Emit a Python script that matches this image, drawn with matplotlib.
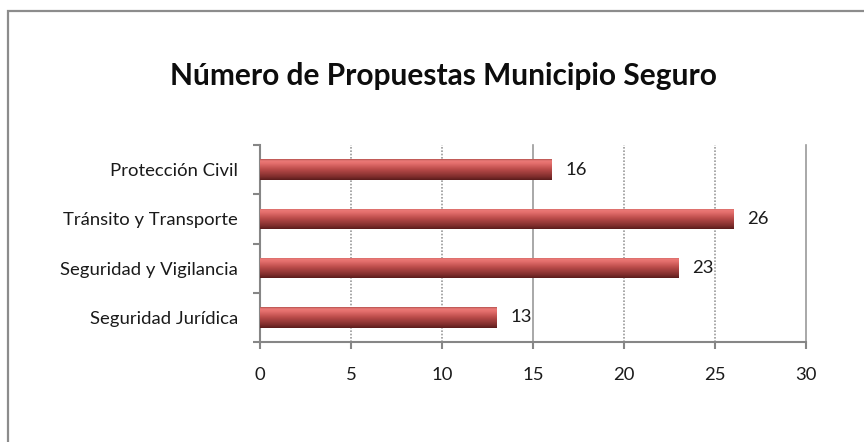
import matplotlib.pyplot as plt
import numpy as np
from matplotlib.colors import LinearSegmentedColormap
from matplotlib.patches import Rectangle

categories = ['Seguridad Jurídica', 'Seguridad y Vigilancia', 'Tránsito y Transporte', 'Protección Civil']
values = [13, 23, 26, 16]
xticks = [0, 5, 10, 15, 20, 25, 30]
title = 'Número de Propuestas Municipio Seguro'

plt.rcParams['font.family'] = ['Lato', 'DejaVu Sans']

fig = plt.figure(figsize=(8.64, 4.42), dpi=100)
fig.patches.append(Rectangle((8 / 864, -0.2), 1.2, 1.2 - 11 / 442,
                             transform=fig.transFigure, fill=False,
                             edgecolor='#8c8c8c', linewidth=1.6))

ax = fig.add_axes([260 / 864, 1 - 342 / 442, 546 / 864, 197 / 442])

# gradient for bars: light on top, dark at bottom
cmap = LinearSegmentedColormap.from_list('bar', [
    (0.0, '#5a1c1c'), (0.15, '#7e2d2c'), (0.5, '#b84a48'),
    (0.8, '#e46e6c'), (0.92, '#ea7a77'), (1.0, '#b85452')])
grad = np.linspace(0, 1, 64).reshape(-1, 1)

ypos = np.arange(len(categories))
h = 0.42
bars = ax.barh(ypos, values, height=h, color='none', edgecolor='none')
for b, v, y in zip(bars, values, ypos):
    im = ax.imshow(grad, cmap=cmap, aspect='auto', origin='lower',
                   extent=(0, v, y - h / 2, y + h / 2), zorder=3)
    im.set_clip_path(b)
    ax.annotate(str(v), (v, y), xytext=(10, 0), textcoords='offset points',
                va='center', ha='left', fontsize=13.3, color='#1a1a1a')

ax.set_xlim(0, 30)
ax.set_ylim(-0.5, len(categories) - 0.5)
ax.set_xticks(xticks)
ax.set_yticks(ypos)
ax.set_yticklabels(categories)
ax.set_yticks(np.arange(-0.5, len(categories), 1), minor=True)
ax.tick_params(axis='y', which='major', length=0, pad=16, labelsize=13.3, labelcolor='#1a1a1a')
ax.tick_params(axis='y', which='minor', length=5, color='#868686', width=1.5)
ax.tick_params(axis='x', length=5, color='#868686', width=1.5, pad=13, labelsize=13.3, labelcolor='#1a1a1a')

for x in xticks[1:]:
    ls = '-' if x in (15, 30) else (0, (1, 1))
    ax.axvline(x, color='#9a9a9a', linewidth=1.2, linestyle=ls, zorder=1, clip_on=False)

for s in ['top', 'right']:
    ax.spines[s].set_visible(False)
for s in ['left', 'bottom']:
    ax.spines[s].set_color('#868686')
    ax.spines[s].set_linewidth(1.5)

fig.text(443 / 864, 1 - 76 / 442, title, ha='center', va='center',
         fontsize=21.5, fontweight='bold', color='#0d0d0d')

fig.savefig('out.png', dpi=100)
